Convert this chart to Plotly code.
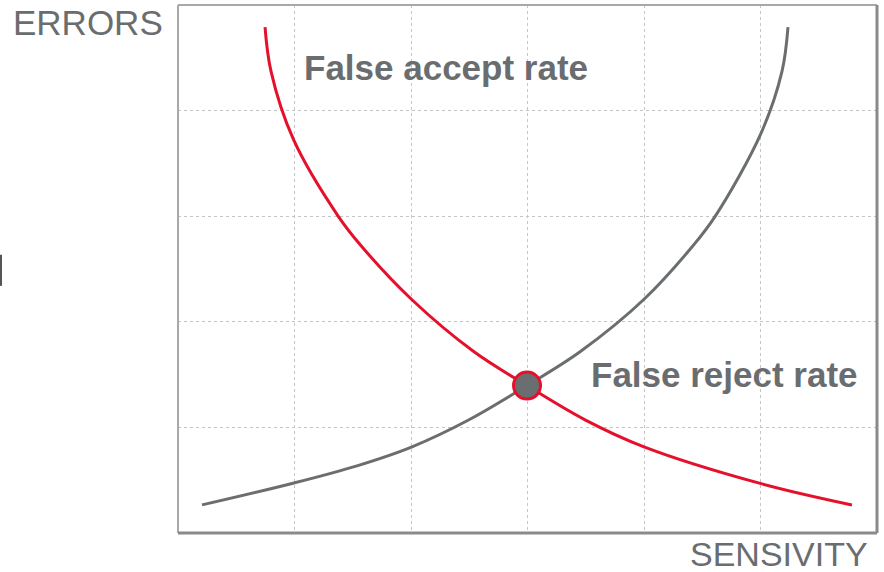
import plotly.graph_objects as go

# Data (x: sensitivity 0-6, y: errors 0-5)
accept_x = [0.747, 0.798, 0.990, 1.376, 1.577, 2.006, 2.535, 2.996, 3.494, 4.000, 5.013, 5.785]
accept_y = [4.791, 4.374, 3.729, 2.999, 2.713, 2.211, 1.721, 1.396, 1.072, 0.816, 0.465, 0.266]

reject_x = [0.206, 0.996, 1.536, 2.009, 2.498, 2.996, 3.457, 3.998, 4.415, 4.612, 5.007, 5.185, 5.236]
reject_y = [0.266, 0.474, 0.636, 0.816, 1.072, 1.396, 1.721, 2.211, 2.713, 3.001, 3.792, 4.374, 4.791]

cross_x = [2.996]
cross_y = [1.396]

label_accept = "False accept rate"
label_reject = "False reject rate"
y_title = "ERRORS"
x_title = "SENSIVITY"

RED = "#e5102b"
GRAY = "#6b6e70"
TEXT = "#6a6d70"

fig = go.Figure()
fig.add_trace(go.Scatter(x=reject_x, y=reject_y, mode="lines",
                         line=dict(color=GRAY, width=3, shape="spline", smoothing=1.0),
                         hoverinfo="skip", showlegend=False))
fig.add_trace(go.Scatter(x=accept_x, y=accept_y, mode="lines",
                         line=dict(color=RED, width=3, shape="spline", smoothing=1.0),
                         hoverinfo="skip", showlegend=False))
fig.add_trace(go.Scatter(x=cross_x, y=cross_y, mode="markers",
                         marker=dict(size=27, color=GRAY, line=dict(color=RED, width=3)),
                         hoverinfo="skip", showlegend=False))

fig.add_annotation(x=1.065, y=4.41, xref="x", yref="y", text=label_accept, showarrow=False,
                   xanchor="left", yanchor="middle",
                   font=dict(family="Liberation Sans, Arial", size=35, color=TEXT, weight="bold"))
fig.add_annotation(x=3.528, y=1.50, xref="x", yref="y", text=label_reject, showarrow=False,
                   xanchor="left", yanchor="middle",
                   font=dict(family="Liberation Sans, Arial", size=35, color=TEXT, weight="bold"))
fig.add_annotation(x=-0.0186, y=0.966, xref="paper", yref="paper", text=y_title, showarrow=False,
                   xanchor="right", yanchor="middle",
                   font=dict(family="Liberation Sans, Arial", size=35, color=TEXT))
fig.add_annotation(x=0.99, y=-0.040, xref="paper", yref="paper", text=x_title, showarrow=False,
                   xanchor="right", yanchor="middle",
                   font=dict(family="Liberation Sans, Arial", size=34, color=TEXT))

# frame
fig.add_shape(type="line", xref="paper", yref="paper", x0=0, x1=0, y0=0, y1=1,
              line=dict(color="#a8a8a8", width=2))
fig.add_shape(type="line", xref="paper", yref="paper", x0=0, x1=1, y0=1, y1=1,
              line=dict(color="#a8a8a8", width=2))
fig.add_shape(type="line", xref="paper", yref="paper", x0=0, x1=1, y0=0, y1=0,
              line=dict(color="#8a8a8a", width=3))
fig.add_shape(type="line", xref="paper", yref="paper", x0=1, x1=1, y0=0, y1=1,
              line=dict(color="#8a8a8a", width=3))
# small edge mark at left of the picture
fig.add_shape(type="line", xref="paper", yref="paper", x0=-0.2532, x1=-0.2532, y0=0.468, y1=0.527,
              line=dict(color="#555555", width=2))

fig.update_xaxes(range=[0, 6], dtick=1, showgrid=True, gridcolor="#c4c4c4", griddash="dot",
                 gridwidth=1, showticklabels=False, zeroline=False, showline=False, ticks="")
fig.update_yaxes(range=[0, 5], dtick=1, showgrid=True, gridcolor="#c4c4c4", griddash="dot",
                 gridwidth=1, showticklabels=False, zeroline=False, showline=False, ticks="")

fig.update_layout(width=884, height=572, margin=dict(l=178, r=7, t=5, b=39),
                  paper_bgcolor="white", plot_bgcolor="white")

fig.write_html("out.html", config={"displayModeBar": False},
               post_script="document.body.style.margin='0';document.body.style.overflow='hidden';")
